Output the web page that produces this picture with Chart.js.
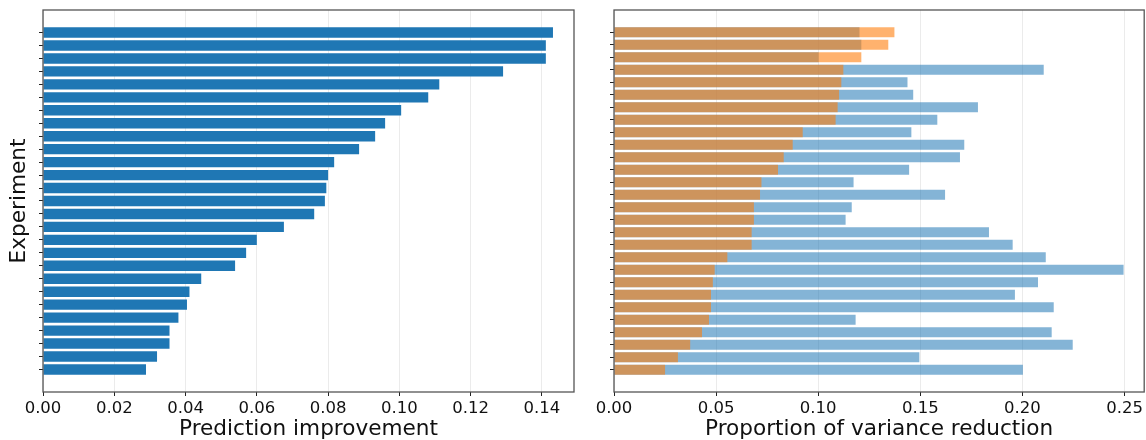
<!DOCTYPE html>
<html>
<head>
<meta charset="utf-8">
<script src="https://cdn.jsdelivr.net/npm/chart.js@4.4.0/dist/chart.umd.min.js"></script>
<style>
  body { margin: 0; background: #fff; }
  #wrap { position: relative; width: 1146px; height: 440px; }
  #left { position: absolute; left: 0; top: 0; }
  #right { position: absolute; left: 580px; top: 0; }
</style>
</head>
<body>
<div id="wrap">
  <canvas id="left" width="580" height="440"></canvas>
  <canvas id="right" width="566" height="440"></canvas>
</div>
<script>
// left panel, top to bottom
const leftExperiments = ['L1', 'L2', 'L3', 'L4', 'L5', 'L6', 'L7', 'L8', 'L9', 'L10', 'L11', 'L12', 'L13', 'L14',
  'L15', 'L16', 'L17', 'L18', 'L19', 'L20', 'L21', 'L22', 'L23', 'L24', 'L25', 'L26', 'L27'];
const improvement = [0.1431, 0.1411, 0.1411, 0.1291, 0.1112, 0.1081, 0.1005, 0.0960, 0.0932, 0.0887,
  0.0817, 0.0800, 0.0795, 0.0791, 0.0761, 0.0676, 0.0600, 0.0570, 0.0539, 0.0444,
  0.0411, 0.0404, 0.0380, 0.0355, 0.0355, 0.0320, 0.0289];

// right panel, top to bottom
const rightExperiments = ['R1', 'R2', 'R3', 'R4', 'R5', 'R6', 'R7', 'R8', 'R9', 'R10', 'R11', 'R12', 'R13', 'R14',
  'R15', 'R16', 'R17', 'R18', 'R19', 'R20', 'R21', 'R22', 'R23', 'R24', 'R25', 'R26', 'R27', 'R28'];
const varianceOrange = [0.1373, 0.1343, 0.1211, 0.1123, 0.1113, 0.1102, 0.1095, 0.1085, 0.0924, 0.0875,
  0.0831, 0.0803, 0.0722, 0.0715, 0.0685, 0.0685, 0.0674, 0.0674, 0.0555, 0.0493,
  0.0484, 0.0475, 0.0475, 0.0465, 0.0431, 0.0373, 0.0313, 0.0250];
const varianceBlue = [0.1202, 0.1211, 0.1002, 0.2104, 0.1437, 0.1465, 0.1782, 0.1583, 0.1456, 0.1715,
  0.1694, 0.1445, 0.1173, 0.1621, 0.1164, 0.1134, 0.1836, 0.1952, 0.2114, 0.2495,
  0.2076, 0.1963, 0.2153, 0.1183, 0.2143, 0.2246, 0.1495, 0.2002];

const leftTicks = [0, 0.02, 0.04, 0.06, 0.08, 0.10, 0.12, 0.14];
const rightTicks = [0, 0.05, 0.10, 0.15, 0.20, 0.25];

const FONT = 'DejaVu Sans';

// box around the plot area, like matplotlib spines
const framePlugin = {
  id: 'frame',
  afterDatasetsDraw(chart) {
    const { ctx, chartArea: a } = chart;
    ctx.save();
    ctx.strokeStyle = '#555';
    ctx.lineWidth = 1.3;
    ctx.strokeRect(a.left, a.top, a.right - a.left, a.bottom - a.top);
    ctx.restore();
  }
};

const toPoints = (values) => values.map((v, i) => ({ x: v, y: i }));

const xScale = (max, ticks, title) => ({
  type: 'linear',
  min: 0,
  max: max,
  afterBuildTicks: (s) => { s.ticks = ticks.map((v) => ({ value: v })); },
  afterFit: (s) => { s.height = 48; },
  border: { display: false },
  grid: { color: '#ebebeb', lineWidth: 1, tickColor: '#222', tickLength: 4 },
  ticks: {
    callback: (v) => Number(v).toFixed(2),
    font: { family: FONT, size: 16.5 },
    color: '#111',
    padding: 3,
    maxRotation: 0,
    autoSkip: false
  },
  title: {
    display: true,
    text: title,
    font: { family: FONT, size: 21.6, lineHeight: 1 },
    color: '#111',
    padding: { top: 0, bottom: 0 }
  }
});

// matplotlib-like margins: 5% of the bar extent on each side
const yScale = (count, width, title) => {
  const margin = (count - 1 + 0.8) * 0.05 + 0.4;
  return {
    type: 'linear',
    reverse: true,
    offset: false,
    min: -margin,
    max: count - 1 + margin,
    afterBuildTicks: (s) => { s.ticks = Array.from({ length: count }, (_, i) => ({ value: i })); },
    afterFit: (s) => { s.width = width; },
    border: { display: false },
    grid: { drawOnChartArea: false, offset: false, tickColor: '#222', tickLength: 4 },
    ticks: { callback: () => '', autoSkip: false, padding: 0, font: { size: 1 } },
    title: {
      display: !!title,
      text: title || '',
      font: { family: FONT, size: 21.6, lineHeight: 1 },
      color: '#111',
      padding: { top: 9, bottom: 0 }
    }
  };
};

const baseOptions = {
  responsive: false,
  animation: false,
  devicePixelRatio: 1,
  indexAxis: 'y',
  plugins: { legend: { display: false }, tooltip: { enabled: false } }
};

new Chart(document.getElementById('left'), {
  type: 'bar',
  data: {
    labels: leftExperiments,
    datasets: [{
      label: 'Prediction improvement',
      data: toPoints(improvement),
      backgroundColor: '#1f77b4',
      borderWidth: 0,
      barPercentage: 0.8,
      categoryPercentage: 1.0
    }]
  },
  options: {
    ...baseOptions,
    layout: { padding: { top: 10, right: 6, bottom: 0, left: 0 } },
    scales: {
      x: xScale(0.149, leftTicks, 'Prediction improvement'),
      y: yScale(improvement.length, 43, 'Experiment')
    }
  },
  plugins: [framePlugin]
});

new Chart(document.getElementById('right'), {
  type: 'bar',
  data: {
    labels: rightExperiments,
    datasets: [
      {
        label: 'orange',
        data: toPoints(varianceOrange),
        backgroundColor: 'rgba(255, 127, 14, 0.6)',
        borderWidth: 0,
        barPercentage: 0.8,
        categoryPercentage: 1.0,
        grouped: false,
        order: 0
      },
      {
        label: 'blue',
        data: toPoints(varianceBlue),
        backgroundColor: 'rgba(31, 119, 180, 0.55)',
        borderWidth: 0,
        barPercentage: 0.8,
        categoryPercentage: 1.0,
        grouped: false,
        order: 1
      }
    ]
  },
  options: {
    ...baseOptions,
    layout: { padding: { top: 10, right: 1, bottom: 0, left: 0 } },
    scales: {
      x: xScale(0.2596, rightTicks, 'Proportion of variance reduction'),
      y: yScale(varianceBlue.length, 34, null)
    }
  },
  plugins: [framePlugin]
});
</script>
</body>
</html>
